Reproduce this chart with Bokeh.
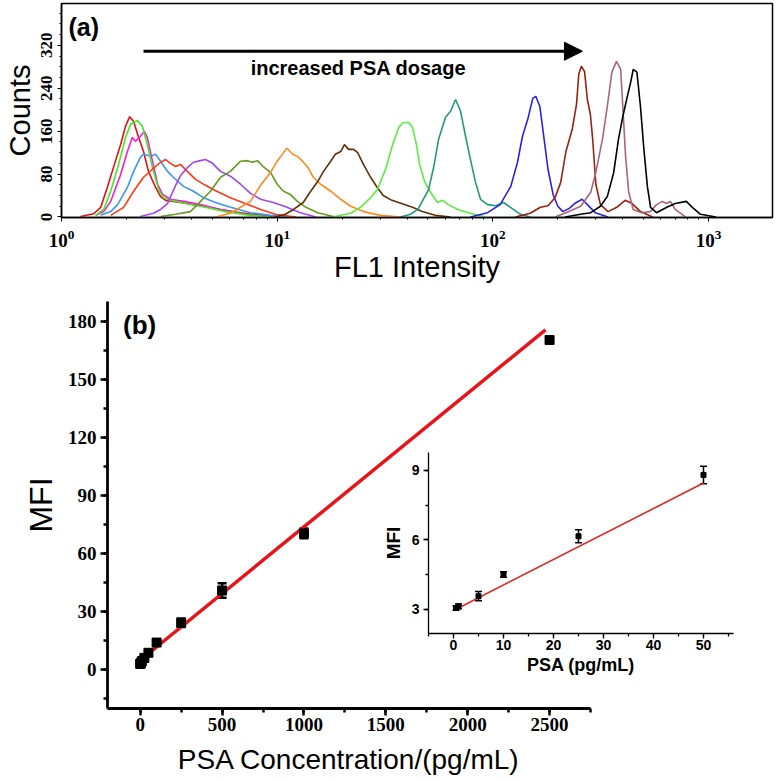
from bokeh.plotting import figure
from bokeh.layouts import column, row
from bokeh.models import (Range1d, SingleIntervalTicker, Arrow, NormalHead, TeeHead,
                          Whisker, ColumnDataSource, Label)
from bokeh.embed import file_html
from bokeh.resources import INLINE

# ---------------- Panel (a): FL1 histograms (intensity, counts) ----------------
red_x = [1.225, 1.41, 1.52, 1.63, 1.74, 1.88, 1.98, 2.07, 2.16, 2.27, 2.40, 2.53, 2.73, 2.88, 3.04, 3.56, 4.41, 5.46, 6.76, 8.37, 11.5]
red_y = [1, 6, 18, 55, 92, 135, 169, 187, 178, 150, 122, 85, 55, 38, 31, 27, 21, 14, 8, 3, 0]
green_x = [1.44, 1.57, 1.69, 1.84, 1.98, 2.09, 2.25, 2.37, 2.50, 2.64, 2.82, 2.97, 3.20, 3.76, 4.65, 5.76, 7.52, 9.3]
green_y = [3, 14, 48, 98, 148, 173, 180, 169, 135, 92, 51, 36, 31, 25, 18, 10, 3, 0]
magenta_x = [1.44, 1.57, 1.69, 1.88, 2.02, 2.13, 2.20, 2.32, 2.42, 2.50, 2.64, 2.79, 2.94, 3.20, 3.68, 4.41, 5.46, 7.1, 9.3]
magenta_y = [3, 10, 29, 79, 122, 148, 141, 150, 160, 148, 104, 61, 42, 33, 29, 23, 14, 5, 0]
skyblue_x = [1.52, 1.69, 1.82, 2.02, 2.16, 2.32, 2.40, 2.59, 2.73, 2.88, 3.10, 3.30, 3.68, 4.09, 4.55, 5.18, 6.07, 7.52, 9.3, 11.5]
skyblue_y = [3, 10, 23, 55, 85, 111, 117, 113, 117, 104, 85, 74, 57, 48, 36, 27, 18, 8, 3, 0]
redorange_x = [1.69, 1.94, 2.16, 2.40, 2.64, 2.88, 3.04, 3.20, 3.38, 3.56, 3.83, 4.18, 4.65, 5.18, 6.07, 7.1, 8.37, 9.8, 12.2]
redorange_y = [3, 18, 48, 74, 89, 102, 107, 100, 94, 98, 85, 70, 59, 49, 36, 25, 14, 5, 0]
purple_x = [2.32, 2.67, 2.88, 3.10, 3.38, 3.56, 3.83, 4.09, 4.41, 4.65, 5.01, 5.46, 6.07, 6.76, 7.52, 8.37, 9.6, 11.1, 12.8, 15.1]
purple_y = [1, 7, 14, 25, 59, 77, 92, 102, 105, 107, 100, 85, 76, 61, 44, 33, 27, 18, 8, 0]
olive_x = [2.88, 3.38, 3.96, 4.41, 4.91, 5.46, 6.07, 6.76, 7.28, 7.66, 8.10, 8.61, 9.31, 10.0, 10.7, 11.5, 12.4, 13.6, 15.4, 18.6]
olive_y = [1, 5, 10, 29, 48, 74, 85, 104, 105, 102, 105, 94, 83, 61, 48, 42, 29, 18, 8, 0]
orange_x = [5.18, 6.07, 6.76, 7.52, 8.37, 9.31, 10.0, 10.7, 11.1, 11.8, 12.4, 13.1, 13.9, 14.7, 15.9, 17.7, 19.7, 21.9, 25.1, 30.1, 37.3]
orange_y = [0, 7, 18, 29, 59, 83, 104, 120, 128, 117, 113, 104, 92, 74, 61, 48, 33, 20, 10, 3, 0]
brown_x = [9.8, 10.9, 11.9, 13.2, 14.3, 15.4, 16.4, 17.7, 18.6, 19.7, 20.5, 21.4, 22.6, 23.6, 25.1, 27.1, 29.1, 31.0, 34.0, 37.7, 42.4, 47.0, 54.0, 63.6]
brown_y = [0, 5, 14, 27, 48, 66, 85, 104, 117, 122, 135, 126, 126, 120, 98, 74, 55, 40, 31, 25, 18, 10, 3, 0]
lime_x = [18.0, 21.9, 24.3, 27.1, 29.1, 31.8, 34.3, 36.6, 38.4, 40.6, 42.4, 44.2, 45.7, 48.2, 51.4, 55.3, 58.4, 62.1, 68.7, 78.7, 92.5]
lime_y = [0, 7, 18, 36, 51, 89, 135, 167, 176, 176, 167, 135, 98, 66, 46, 27, 31, 23, 14, 7, 0]
teal_x = [37.3, 41.5, 44.9, 50.3, 53.2, 56.0, 60.3, 63.6, 67.1, 70.8, 74.7, 78.7, 83.1, 87.6, 94.4, 102.9, 112, 120.6, 134, 149]
teal_y = [0, 5, 14, 51, 94, 145, 186, 197, 219, 197, 150, 107, 64, 33, 23, 21, 27, 18, 5, 0]
blue_x = [78.7, 94.4, 108, 121, 130, 137, 145, 153, 158, 165, 171, 180, 190, 200, 211, 226, 239, 259, 274, 298, 342]
blue_y = [0, 8, 23, 57, 102, 150, 182, 221, 225, 206, 158, 89, 42, 20, 10, 16, 25, 33, 23, 8, 0]
darkred_x = [127, 149, 166, 180, 194, 206, 218, 233, 244, 250, 257, 266, 274, 283, 290, 300, 315, 342, 375, 410, 442, 483, 550]
darkred_y = [0, 7, 18, 21, 36, 64, 122, 163, 210, 266, 281, 271, 219, 191, 145, 61, 23, 10, 18, 31, 25, 10, 0]
mauve_x = [194, 218, 255, 284, 300, 322, 339, 356, 374, 391, 400, 412, 426, 447, 488, 538, 573, 610, 640, 665, 700, 780]
mauve_y = [0, 8, 20, 46, 83, 145, 206, 270, 290, 275, 206, 113, 46, 14, 8, 10, 23, 29, 25, 29, 14, 0]
black_x = [216, 255, 284, 315, 339, 363, 382, 400, 420, 435, 447, 465, 483, 501, 520, 538, 573, 640, 700, 788, 840, 917, 1080]
black_y = [0, 5, 8, 20, 38, 83, 145, 187, 225, 251, 275, 270, 206, 126, 57, 18, 8, 18, 25, 29, 18, 5, 0]

curves = [
    (red_x, red_y, "#e2101c"),
    (skyblue_x, skyblue_y, "#3a96ee"),
    (magenta_x, magenta_y, "#f020d8"),
    (green_x, green_y, "#44ea1e"),
    (redorange_x, redorange_y, "#ff3a10"),
    (purple_x, purple_y, "#a845ee"),
    (olive_x, olive_y, "#679a22"),
    (orange_x, orange_y, "#ff8a22"),
    (brown_x, brown_y, "#5e3008"),
    (lime_x, lime_y, "#5cec40"),
    (teal_x, teal_y, "#24997a"),
    (blue_x, blue_y, "#2a22e0"),
    (darkred_x, darkred_y, "#962210"),
    (mauve_x, mauve_y, "#a8667a"),
    (black_x, black_y, "#000000"),
]

# ---------------- Panel (b): calibration ----------------
conc = [0.5, 1, 5, 10, 25, 50, 100, 250, 500, 1000, 2500]
mfi = [3.05, 3.12, 3.56, 4.5, 6.15, 8.8, 14.1, 24.3, 41.0, 70.5, 170.5]
mfi_err = [0.1, 0.1, 0.2, 0.12, 0.28, 0.38, 1.5, 2.2, 3.8, 2.5, 1.5]
fit_x = [-15, 2475]
fit_y = [3.9, 175.7]

inset_n = 6
fit_in_x = [0.5, 50]
fit_in_y = [3.0, 8.45]

SERIF = "Liberation Serif"
SANS = "Liberation Sans"

# ---------------- figure (a) ----------------
pa = figure(width=777, height=285, x_axis_type="log", x_range=Range1d(1, 1977),
            y_range=Range1d(-1, 398), output_backend="svg", toolbar_location=None,
            min_border_left=61, min_border_right=5, min_border_top=3, min_border_bottom=67,
            background_fill_color="white", border_fill_color="white")
pa.grid.visible = False
pa.outline_line_color = "black"
pa.outline_line_width = 1.5
pa.outline_line_alpha = 1

for xs, ys, col in curves:
    pa.line(xs, ys, line_color=col, line_width=1.6)

pa.yaxis.ticker = SingleIntervalTicker(interval=80, num_minor_ticks=4)
for ax in (pa.xaxis, pa.yaxis):
    ax.axis_line_color = "black"
    ax.axis_line_width = 1.5
    ax.major_tick_line_color = "black"
    ax.minor_tick_line_color = "black"
    ax.major_tick_in = 0
    ax.minor_tick_in = 0
    ax.major_tick_out = 4
    ax.minor_tick_out = 2
    ax.major_label_text_font = SERIF
    ax.major_label_text_font_style = "bold"
    ax.major_label_text_color = "black"
    ax.axis_label_text_font = SANS
    ax.axis_label_text_font_style = "normal"
    ax.axis_label_text_color = "black"
pa.xaxis.axis_label = "FL1 Intensity"
pa.xaxis.axis_label_text_font_size = "29px"
pa.xaxis.major_label_text_font_size = "19px"
pa.xaxis.major_label_standoff = 8
pa.xaxis.axis_label_standoff = 1
pa.yaxis.axis_label = "Counts"
pa.yaxis.axis_label_text_font_size = "29px"
pa.yaxis.major_label_text_font_size = "17px"
pa.yaxis.major_label_orientation = "vertical"
pa.yaxis.major_label_standoff = 5
pa.yaxis.axis_label_standoff = 3

pa.add_layout(Arrow(end=NormalHead(size=18, fill_color="black", line_color="black"),
                    x_start=2.40, y_start=309, x_end=260, y_end=309,
                    line_color="black", line_width=3))
pa.add_layout(Label(x=23.8, y=277, text="increased PSA dosage", text_font=SANS,
                    text_font_style="bold", text_font_size="20px", text_align="center",
                    text_baseline="middle", text_color="black"))
pa.add_layout(Label(x=1.078, y=380, text="(a)", text_font=SANS, text_font_style="bold",
                    text_font_size="25px", text_baseline="top", text_color="black"))

# ---------------- figure (b) ----------------
pb = figure(width=777, height=496, x_range=Range1d(-200, 2750), y_range=Range1d(-20, 190.4),
            output_backend="svg", toolbar_location=None,
            min_border_left=107, min_border_right=168, min_border_top=16, min_border_bottom=73,
            background_fill_color="white", border_fill_color="white")
pb.grid.visible = False
pb.outline_line_color = None

pb.line(fit_x, fit_y, line_color="#e8141c", line_width=3.5)
src = ColumnDataSource(dict(x=conc, y=mfi,
                            lo=[m - e for m, e in zip(mfi, mfi_err)],
                            hi=[m + e for m, e in zip(mfi, mfi_err)]))
pb.add_layout(Whisker(source=src, base="x", upper="hi", lower="lo", line_width=2.5,
                      upper_head=TeeHead(size=9, line_width=2.5),
                      lower_head=TeeHead(size=9, line_width=2.5)))
pb.scatter("x", "y", source=src, marker="square", size=9, fill_color="black", line_color="black")

pb.xaxis.ticker = SingleIntervalTicker(interval=500, num_minor_ticks=2)
pb.yaxis.ticker = SingleIntervalTicker(interval=30, num_minor_ticks=2)
for ax in (pb.xaxis, pb.yaxis):
    ax.axis_line_color = "black"
    ax.axis_line_width = 2.8
    ax.major_tick_line_color = "black"
    ax.minor_tick_line_color = "black"
    ax.major_tick_line_width = 2.5
    ax.minor_tick_line_width = 2.5
    ax.major_tick_in = 0
    ax.minor_tick_in = 0
    ax.major_tick_out = 7
    ax.minor_tick_out = 4
    ax.major_label_text_font = SERIF
    ax.major_label_text_font_style = "bold"
    ax.major_label_text_font_size = "19px"
    ax.major_label_text_color = "black"
    ax.axis_label_text_font = SANS
    ax.axis_label_text_font_style = "normal"
    ax.axis_label_text_color = "black"
pb.xaxis.axis_label = "PSA Concentration/(pg/mL)"
pb.xaxis.axis_label_text_font_size = "28px"
pb.xaxis.major_label_standoff = 2
pb.xaxis.axis_label_standoff = 10
pb.yaxis.axis_label = "MFI"
pb.yaxis.axis_label_text_font_size = "32px"
pb.yaxis.major_label_standoff = 4
pb.yaxis.axis_label_standoff = 6

pb.add_layout(Label(x=-105, y=186, text="(b)", text_font=SANS, text_font_style="bold",
                    text_font_size="26px", text_baseline="top", text_color="black"))

# ---------------- inset ----------------
pi = figure(width=362, height=270, x_range=Range1d(-5, 56), y_range=Range1d(1.95, 9.77),
            output_backend="svg", toolbar_location=None,
            min_border_left=51, min_border_right=6, min_border_top=2, min_border_bottom=44,
            background_fill_alpha=0, border_fill_alpha=0)
pi.margin = (151, 0, 0, -381)
pi.grid.visible = False
pi.outline_line_color = None

pi.line(fit_in_x, fit_in_y, line_color="#e42424", line_width=1.6)
src_in = ColumnDataSource(dict(x=conc[:inset_n], y=mfi[:inset_n],
                               lo=[m - e for m, e in zip(mfi[:inset_n], mfi_err[:inset_n])],
                               hi=[m + e for m, e in zip(mfi[:inset_n], mfi_err[:inset_n])]))
pi.add_layout(Whisker(source=src_in, base="x", upper="hi", lower="lo", line_width=1.5,
                      upper_head=TeeHead(size=7, line_width=1.5),
                      lower_head=TeeHead(size=7, line_width=1.5)))
pi.scatter("x", "y", source=src_in, marker="square", size=5, fill_color="black", line_color="black")

pi.xaxis.ticker = SingleIntervalTicker(interval=10, num_minor_ticks=2)
pi.yaxis.ticker = SingleIntervalTicker(interval=3, num_minor_ticks=2)
for ax in (pi.xaxis, pi.yaxis):
    ax.axis_line_color = "black"
    ax.axis_line_width = 1.3
    ax.major_tick_line_color = "black"
    ax.minor_tick_line_color = "black"
    ax.major_tick_line_width = 1.3
    ax.minor_tick_line_width = 1.3
    ax.major_tick_in = 0
    ax.minor_tick_in = 0
    ax.major_tick_out = 5
    ax.minor_tick_out = 3
    ax.major_label_text_font = SANS
    ax.major_label_text_font_style = "bold"
    ax.major_label_text_font_size = "14px"
    ax.major_label_text_color = "black"
    ax.axis_label_text_font = SANS
    ax.axis_label_text_font_style = "bold"
    ax.axis_label_text_color = "black"
pi.xaxis.axis_label = "PSA (pg/mL)"
pi.xaxis.axis_label_text_font_size = "18px"
pi.xaxis.major_label_standoff = 1
pi.xaxis.axis_label_standoff = 2
pi.yaxis.axis_label = "MFI"
pi.yaxis.axis_label_text_font_size = "19px"
pi.yaxis.major_label_standoff = 4
pi.yaxis.axis_label_standoff = 5

layout = column(pa, row(pb, pi))

open("out.html", "w").write(file_html(layout, INLINE))
